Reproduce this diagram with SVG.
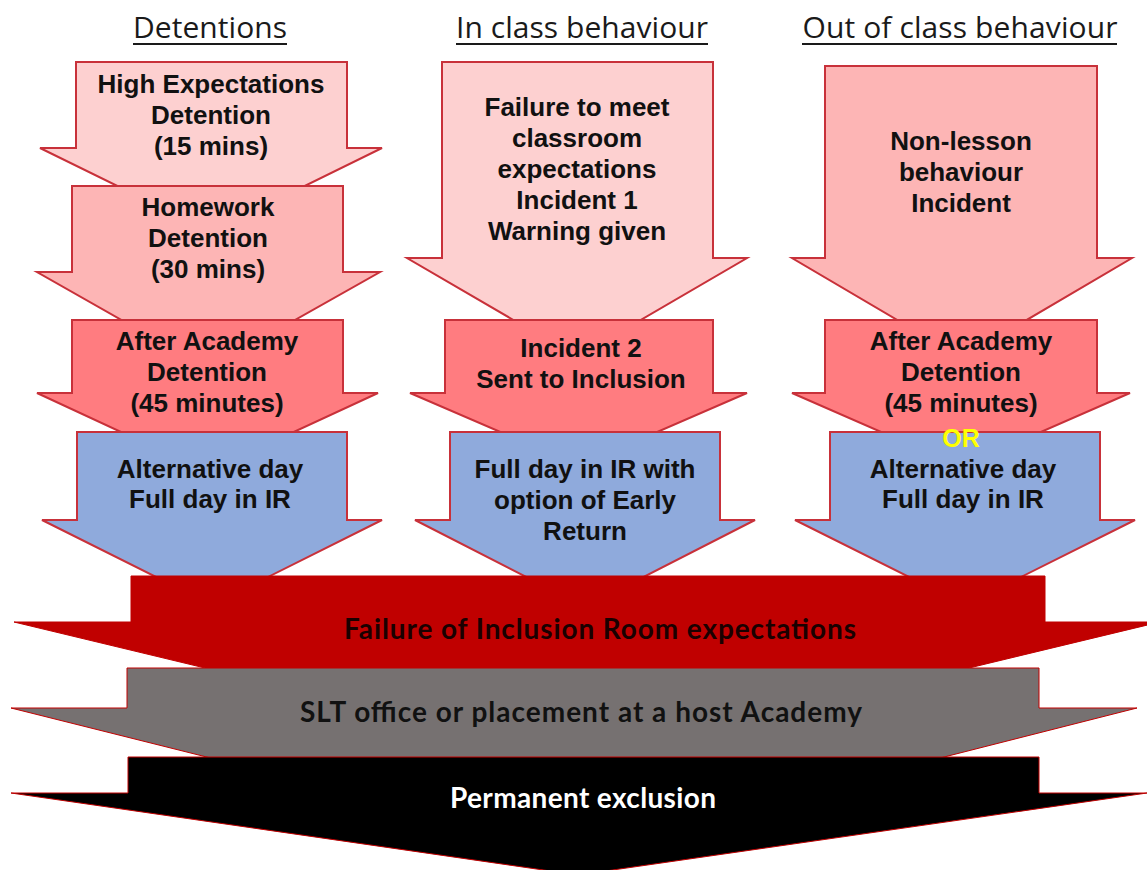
<svg xmlns="http://www.w3.org/2000/svg" width="1147" height="870" viewBox="0 0 1147 870">
<style>
.hdr{font-family:"Open Sans","Liberation Sans",sans-serif;font-size:30px;fill:#1a1a1a;text-anchor:middle}
.ul{stroke:#1a1a1a;stroke-width:2}
.arr{stroke:#C8313A;stroke-width:2;stroke-linejoin:miter}
.t{font-family:"Liberation Sans",Arial,sans-serif;font-weight:bold;font-size:26px;fill:#111;text-anchor:middle}
.p1{fill:#FDD0D0}
.p2{fill:#FDB5B5}
.p3{fill:#FF7C80}
.bl{fill:#8FAADC}
.band{stroke:#C00000;stroke-width:1}
.bt{font-family:Lato,"Liberation Sans",sans-serif;font-size:28px;text-anchor:middle}
</style>
<rect width="1147" height="870" fill="#fff"/>
<g id="headers">
<text class="hdr" x="210" y="38" textLength="154">Detentions</text>
<line class="ul" x1="133" y1="44" x2="287" y2="44"/>
<text class="hdr" x="582" y="38" textLength="252">In class behaviour</text>
<line class="ul" x1="456" y1="44" x2="708" y2="44"/>
<text class="hdr" x="960" y="38" textLength="315">Out of class behaviour</text>
<line class="ul" x1="802" y1="44" x2="1117" y2="44"/>
</g>
<g id="det1">
<path class="arr p1" d="M76 62 H347 V148 H382 L211 232 L40 148 H76 Z"/>
<text class="t" x="211" y="93">High Expectations</text>
<text class="t" x="211" y="124">Detention</text>
<text class="t" x="211" y="155">(15 mins)</text>
</g>
<g id="det2">
<path class="arr p2" d="M72 186 H343 V272 H380 L208 369 L37 272 H72 Z"/>
<text class="t" x="208" y="216">Homework</text>
<text class="t" x="208" y="247">Detention</text>
<text class="t" x="208" y="278">(30 mins)</text>
</g>
<g id="det3">
<path class="arr p3" d="M72 320 H343 V393 H378 L207 472 L37 393 H72 Z"/>
<text class="t" x="207" y="350">After Academy</text>
<text class="t" x="207" y="381">Detention</text>
<text class="t" x="207" y="412">(45 minutes)</text>
</g>
<g id="det4">
<path class="arr bl" d="M77 432 H347 V520 H382 L212 605 L42 520 H77 Z"/>
<text class="t" x="210" y="478">Alternative day</text>
<text class="t" x="210" y="508">Full day in IR</text>
</g>
<g id="in1">
<path class="arr p1" d="M442 62 H713 V258 H747 L577 357 L407 258 H442 Z"/>
<text class="t" x="577" y="116">Failure to meet</text>
<text class="t" x="577" y="147">classroom</text>
<text class="t" x="577" y="178">expectations</text>
<text class="t" x="577" y="209">Incident 1</text>
<text class="t" x="577" y="240">Warning given</text>
</g>
<g id="in2">
<path class="arr p3" d="M445 320 H713 V393 H747 L579 466 L410 393 H445 Z"/>
<text class="t" x="581" y="357">Incident 2</text>
<text class="t" x="581" y="388">Sent to Inclusion</text>
</g>
<g id="in3">
<path class="arr bl" d="M450 432 H720 V520 H755 L585 607 L415 520 H450 Z"/>
<text class="t" x="585" y="478">Full day in IR with</text>
<text class="t" x="585" y="509">option of Early</text>
<text class="t" x="585" y="540">Return</text>
</g>
<g id="out1">
<path class="arr p2" d="M825 66 H1097 V258 H1132 L962 358 L792 258 H825 Z"/>
<text class="t" x="961" y="150">Non-lesson</text>
<text class="t" x="961" y="181">behaviour</text>
<text class="t" x="961" y="212">Incident</text>
</g>
<g id="out2">
<path class="arr p3" d="M825 320 H1097 V393 H1130 L961 467 L792 393 H825 Z"/>
<text class="t" x="961" y="350">After Academy</text>
<text class="t" x="961" y="381">Detention</text>
<text class="t" x="961" y="412">(45 minutes)</text>
</g>
<g id="out3">
<path class="arr bl" d="M830 432 H1100 V520 H1135 L965 605 L795 520 H830 Z"/>
<text class="t" x="961" y="447" style="fill:#FFFF00;font-size:25px">OR</text>
<text class="t" x="963" y="478">Alternative day</text>
<text class="t" x="963" y="508">Full day in IR</text>
</g>
<g id="band-failure">
<path class="band" fill="#C00000" d="M131 576 H1045 V622 H1160 L587 760 L14 622 H131 Z"/>
<text class="bt" x="600" y="639" font-weight="bold" fill="#1a0000" font-size="29" textLength="512">Failure of Inclusion Room expectations</text>
</g>
<g id="band-slt">
<path class="band" fill="#767171" d="M127 668 H1039 V708 H1137 L578 850 L11 708 H127 Z"/>
<text class="bt" x="581" y="722" fill="#111" font-weight="bold" font-size="28" textLength="562">SLT office or placement at a host Academy</text>
</g>
<g id="band-exclusion">
<path class="band" fill="#000" d="M128 757 H1039 V793 H1147 L578 875 L11 793 H128 Z"/>
<text class="bt" x="583" y="808" font-weight="bold" fill="#fff" textLength="266">Permanent exclusion</text>
</g>
</svg>
